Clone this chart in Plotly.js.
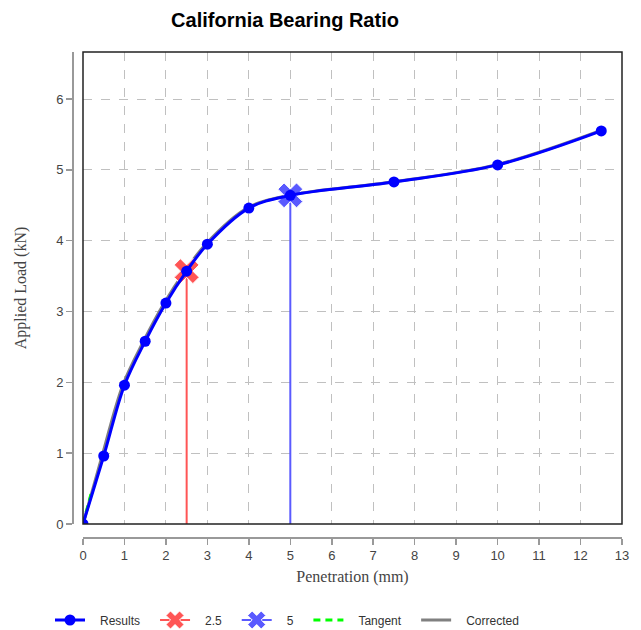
<!DOCTYPE html>
<html>
<head>
<meta charset="utf-8">
<script src="https://cdn.plot.ly/plotly-3.0.1.min.js"></script>
<style>html,body{margin:0;padding:0;background:#fff;}#chart{width:641px;height:630px;}</style>
</head>
<body>
<div id="chart"></div>
<script>
// Data
var penetration = [0, 0.5, 1, 1.5, 2, 2.5, 3, 4, 5, 7.5, 10, 12.5];
var load = [0, 0.96, 1.96, 2.58, 3.12, 3.57, 3.95, 4.46, 4.64, 4.83, 5.07, 5.55];

var correctedX = [0, 0.46, 0.96, 1.46, 1.96, 2.46, 2.96, 3.96, 4.96, 7.46, 9.96, 12.46];
var correctedY = [0, 0.96, 1.96, 2.58, 3.12, 3.57, 3.95, 4.46, 4.64, 4.83, 5.07, 5.55];

var tangentX = [0, 0.2];
var tangentY = [0, 0.44];

var mark25X = [2.5, 2.5, 2.5, 2.5];
var mark25Y = [3.57, 3.57, 3.57, 0];
var mark5X = [5, 5, 5, 5];
var mark5Y = [4.64, 4.64, 4.64, 0];

var xTicks = [0,1,2,3,4,5,6,7,8,9,10,11,12,13];
var yTicks = [0,1,2,3,4,5,6];

var NB = '\u00a0\u00a0\u00a0';
var font = 'Liberation Sans, Arial, sans-serif';

var data = [
  {x: correctedX, y: correctedY, mode: 'lines', name: NB + 'Corrected' + NB, legendrank: 5,
   line: {color: '#808080', width: 3, shape: 'spline'}},
  {x: tangentX, y: tangentY, mode: 'lines', name: NB + 'Tangent' + NB, legendrank: 4,
   line: {color: '#00ff00', width: 3, dash: '7px,5px'}},
  {x: mark25X, y: mark25Y, mode: 'lines+markers', name: NB + '2.5' + NB, legendrank: 2,
   line: {color: '#ff5555', width: 2},
   marker: {symbol: 'x', size: [22, 22, 22, 0], color: '#ff5555', opacity: 1}},
  {x: mark5X, y: mark5Y, mode: 'lines+markers', name: NB + '5' + NB, legendrank: 3,
   line: {color: '#5a5aff', width: 2},
   marker: {symbol: 'x', size: [22, 22, 22, 0], color: '#5a5aff', opacity: 1}},
  {x: penetration, y: load, mode: 'lines+markers', name: NB + 'Results' + NB, legendrank: 1,
   line: {color: '#0000ff', width: 3, shape: 'spline'},
   marker: {symbol: 'circle', size: 11, color: '#0000ff'}}
];

var layout = {
  width: 641, height: 630,
  margin: {l: 72, r: 19, t: 52, b: 93},
  paper_bgcolor: '#fff', plot_bgcolor: '#fff',
  showlegend: true,
  hovermode: false,
  title: {text: 'California Bearing Ratio', x: 285/641, xanchor: 'center', xref: 'container',
          y: 1 - 20/630, yanchor: 'middle', yref: 'container',
          font: {family: font, size: 20, color: '#000', weight: 'bold'}},
  xaxis: {
    domain: [11/550, 1], anchor: 'free', position: 0,
    range: [0, 13], tickvals: xTicks, ticktext: xTicks.map(String),
    showline: true, linecolor: '#999', linewidth: 1.5,
    ticks: 'outside', ticklen: 6, tickcolor: '#999', tickwidth: 1.5,
    showgrid: true, gridcolor: '#c0c0c0', griddash: 'dash', gridwidth: 1,
    zeroline: false,
    tickfont: {family: font, size: 13, color: '#444'},
    title: {text: 'Penetration (mm)', standoff: 8,
            font: {family: 'Liberation Serif, Times New Roman, serif', size: 16, color: '#444'}}
  },
  yaxis: {
    domain: [13/485, 1], anchor: 'free', position: 0,
    range: [0, 6.664], tickvals: yTicks, ticktext: yTicks.map(String),
    showline: true, linecolor: '#999', linewidth: 1.5,
    ticks: 'outside', ticklen: 6, tickcolor: '#999', tickwidth: 1.5,
    showgrid: true, gridcolor: '#c0c0c0', griddash: 'dash', gridwidth: 1,
    zeroline: false,
    tickfont: {family: font, size: 13, color: '#444'},
    title: {text: 'Applied Load (kN)', standoff: 24,
            font: {family: 'Liberation Serif, Times New Roman, serif', size: 16, color: '#444'}}
  },
  shapes: [{type: 'rect', xref: 'x domain', yref: 'y domain', x0: 0, x1: 1, y0: 0, y1: 1,
            line: {color: '#222', width: 1.5}, layer: 'above'}],
  legend: {orientation: 'h', xref: 'container', yref: 'container', x: 50/641, xanchor: 'left',
           y: 10/630, yanchor: 'middle', traceorder: 'normal',
           font: {family: font, size: 12, color: '#333'},
           itemwidth: 30}
};

Plotly.newPlot('chart', data, layout, {displayModeBar: false, staticPlot: true});
</script>
</body>
</html>
